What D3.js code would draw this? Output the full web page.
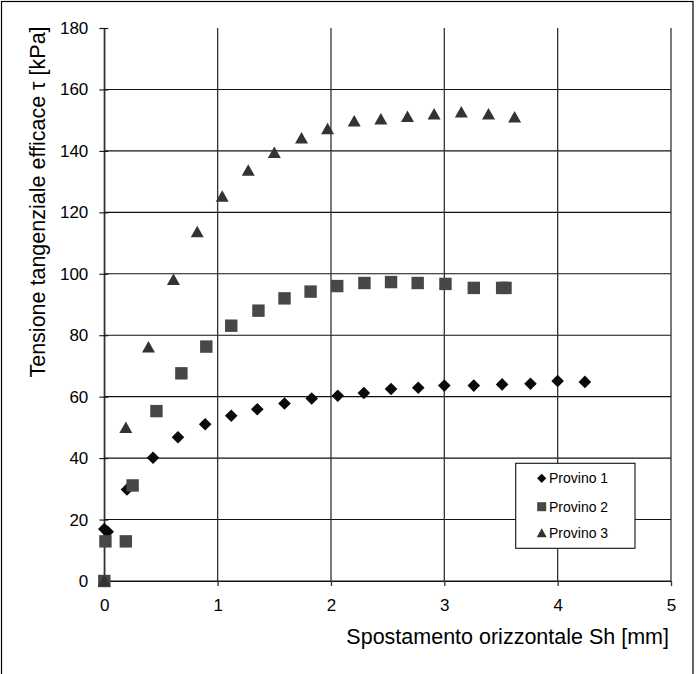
<!DOCTYPE html>
<html>
<head>
<meta charset="utf-8">
<script src="https://cdn.jsdelivr.net/npm/d3@7"></script>
<style>
  html, body { margin: 0; padding: 0; background: #fff; }
  svg { display: block; }
  text { font-family: "Liberation Sans", Arial, sans-serif; fill: #000; }
</style>
</head>
<body>
<svg id="chart" width="698" height="674"></svg>
<script>
// ---- Data ----
const xTicks = [0, 1, 2, 3, 4, 5];
const yTicks = [0, 20, 40, 60, 80, 100, 120, 140, 160, 180];
const seriesNames = ["Provino 1", "Provino 2", "Provino 3"];

const provino1X = [0.00, 0.03, 0.20, 0.43, 0.65, 0.89, 1.12, 1.35, 1.59, 1.83, 2.06, 2.29, 2.53, 2.77, 3.00, 3.26, 3.51, 3.76, 4.00, 4.24];
const provino1Y = [16.9, 16.0, 29.8, 40.1, 46.8, 51.0, 53.8, 55.9, 57.8, 59.4, 60.3, 61.2, 62.5, 62.9, 63.6, 63.6, 64.0, 64.2, 65.1, 64.8];

const provino2X = [0.00, 0.01, 0.19, 0.25, 0.46, 0.68, 0.90, 1.12, 1.36, 1.59, 1.82, 2.055, 2.295, 2.53, 2.765, 3.01, 3.26, 3.51, 3.54];
const provino2Y = [0.0, 12.9, 12.9, 31.1, 55.3, 67.6, 76.3, 83.1, 88.0, 92.0, 94.2, 96.0, 97.0, 97.3, 97.0, 96.7, 95.4, 95.4, 95.4];

const provino3X = [0.00, 0.19, 0.39, 0.61, 0.82, 1.04, 1.27, 1.50, 1.74, 1.97, 2.205, 2.44, 2.675, 2.91, 3.15, 3.39, 3.62];
const provino3Y = [0.0, 49.9, 76.1, 98.0, 113.6, 125.1, 133.6, 139.4, 144.1, 147.1, 149.6, 150.3, 151.1, 151.9, 152.6, 151.9, 150.9];

// ---- Layout ----
const W = 698, H = 674;
const plot = { left: 104.3, top: 28, right: 671, bottom: 581 };

const svg = d3.select("#chart");

const x = d3.scaleLinear().domain([0, 5]).range([plot.left, plot.right]);
const y = d3.scaleLinear().domain([0, 180]).range([plot.bottom, plot.top]);

// outer frame
svg.append("rect")
  .attr("x", 1.5).attr("y", 1.5)
  .attr("width", 691.5).attr("height", H + 10)
  .attr("fill", "none").attr("stroke", "#000").attr("stroke-width", 1.2);

// horizontal gridlines (no line at the top value)
svg.append("g").selectAll("line")
  .data(yTicks.filter(d => d < 180))
  .join("line")
  .attr("x1", plot.left).attr("x2", plot.right)
  .attr("y1", d => y(d)).attr("y2", d => y(d))
  .attr("stroke", "#111").attr("stroke-width", 1.1);

// vertical gridlines
svg.append("g").selectAll("line")
  .data(xTicks)
  .join("line")
  .attr("x1", d => x(d)).attr("x2", d => x(d))
  .attr("y1", plot.top).attr("y2", plot.bottom)
  .attr("stroke", "#333").attr("stroke-width", 1.3);

// axes with D3
const xAxis = d3.axisBottom(x).tickValues(xTicks).tickFormat(d3.format("d"))
  .tickSizeInner(5).tickSizeOuter(0).tickPadding(13);
const gx = svg.append("g").attr("transform", `translate(0,${plot.bottom})`).call(xAxis);
gx.select(".domain").attr("stroke", "#111").attr("stroke-width", 1.1);
gx.selectAll(".tick line").attr("stroke", "#333").attr("stroke-width", 1.3);
gx.selectAll(".tick text").attr("font-size", 17).attr("fill", "#000")
  .style("font-family", '"Liberation Sans", Arial, sans-serif');

const yAxis = d3.axisLeft(y).tickValues(yTicks).tickFormat(d3.format("d"))
  .tickSizeInner(5).tickSizeOuter(0).tickPadding(11);
const gy = svg.append("g").attr("transform", `translate(${plot.left},0)`).call(yAxis);
gy.select(".domain").attr("stroke", "#333").attr("stroke-width", 1.3);
gy.selectAll(".tick line").attr("stroke", "#111").attr("stroke-width", 1.1).attr("x2", -5).attr("x1", 4);
gy.selectAll(".tick text").attr("font-size", 17).attr("fill", "#000")
  .style("font-family", '"Liberation Sans", Arial, sans-serif');

// axis titles
svg.append("text")
  .attr("x", 669).attr("y", 644)
  .attr("text-anchor", "end")
  .attr("font-size", 21.5)
  .text("Spostamento orizzontale Sh [mm]");

svg.append("text")
  .attr("transform", "translate(45,202) rotate(-90)")
  .attr("text-anchor", "middle")
  .attr("font-size", 21.5)
  .text("Tensione tangenziale efficace τ [kPa]");

// ---- markers ----
const markerDefs = [
  { type: d3.symbolDiamond2 || d3.symbolDiamond, color: "#0a0a0a", draw: (g, s) => g.append("path").attr("d", "M0,-6.3L6.3,0L0,6.3L-6.3,0Z").attr("fill", "#0a0a0a") },
  { draw: (g, s) => g.append("rect").attr("x", -6.2).attr("y", -6.2).attr("width", 12.4).attr("height", 12.4).attr("fill", "#474747") },
  { draw: (g, s) => g.append("path").attr("d", "M0,-6.3L6.5,5.2L-6.5,5.2Z").attr("fill", "#333333") }
];
const legendDraw = [
  g => g.append("path").attr("d", "M0,-4.6L4.6,0L0,4.6L-4.6,0Z").attr("fill", "#0a0a0a"),
  g => g.append("rect").attr("x", -4.5).attr("y", -4.5).attr("width", 9).attr("height", 9).attr("fill", "#474747"),
  g => g.append("path").attr("d", "M0,-5L5,4L-5,4Z").attr("fill", "#333333")
];

const allX = [provino1X, provino2X, provino3X];
const allY = [provino1Y, provino2Y, provino3Y];

allX.forEach((xs, si) => {
  const pts = xs.map((v, i) => ({ x: v, y: allY[si][i] }));
  const g = svg.append("g");
  pts.forEach(p => {
    const m = g.append("g").attr("transform", `translate(${x(p.x)},${y(p.y)})`);
    markerDefs[si].draw(m);
  });
});

// ---- legend ----
const lg = svg.append("g");
lg.append("rect")
  .attr("x", 515.7).attr("y", 463.3).attr("width", 119.3).attr("height", 85)
  .attr("fill", "#fff").attr("stroke", "#111").attr("stroke-width", 1.1);
const legendY = [478.3, 506.7, 533.3];
seriesNames.forEach((name, i) => {
  const m = lg.append("g").attr("transform", `translate(541.7,${legendY[i]})`);
  legendDraw[i](m);
  lg.append("text")
    .attr("x", 549).attr("y", legendY[i]).attr("dy", "0.36em")
    .attr("font-size", 14)
    .text(name);
});
</script>
</body>
</html>
